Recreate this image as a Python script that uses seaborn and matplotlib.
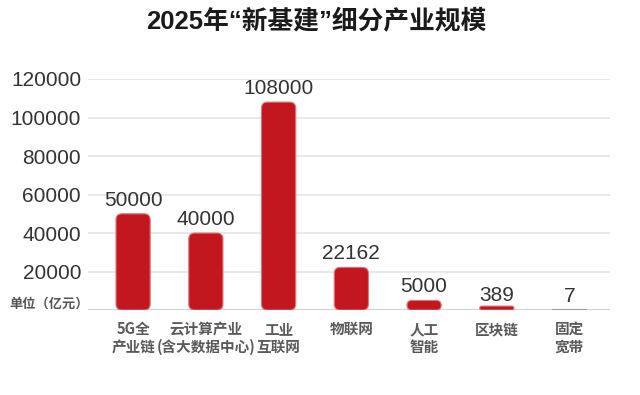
import matplotlib
matplotlib.use("Agg")
import matplotlib.pyplot as plt
from matplotlib.patches import FancyBboxPatch
import seaborn as sns
import pandas as pd

title = "2025年“新基建”细分产业规模"
categories = ["5G全\n产业链", "云计算产业\n(含大数据中心)", "工业\n互联网", "物联网",
              "人工\n智能", "区块链", "固定\n宽带"]
values = [50000, 40000, 108000, 22162, 5000, 389, 7]
value_labels = ["50000", "40000", "108000", "22162", "5000", "389", "7"]
yticks = [20000, 40000, 60000, 80000, 100000, 120000]
unit_label = "单位（亿元）"

sns.set_theme(style="white")
plt.rcParams["font.family"] = ["Liberation Sans", "Noto Sans CJK SC", "DejaVu Sans"]

df = pd.DataFrame({"cat": categories, "val": values})

fig = plt.figure(figsize=(6.4, 3.95), dpi=100)
ax = fig.add_axes([0.1375, 0.215, 0.815, 0.585])

bar_color = "#C2171F"
sns.barplot(data=df, x="cat", y="val", color=bar_color, width=0.47, ax=ax,
            saturation=1, errorbar=None)

ax.set_ylim(0, 120000)
ax.set_xlim(-0.62, 6.55)
ax.set_yticks(yticks)
ax.set_yticklabels([str(t) for t in yticks], fontsize=15, color="#333333")
ax.tick_params(axis="y", length=0, pad=5)
ax.tick_params(axis="x", length=0, pad=8)
ax.set_xticks(range(len(categories)))
ax.set_xticklabels(categories, fontsize=10.5, color="#5a5a5a", linespacing=1.15,
                   fontweight="bold", family=["Noto Sans CJK SC", "DejaVu Sans"])
ax.set_xlabel("")
ax.set_ylabel("")
for s in ax.spines.values():
    s.set_visible(False)
ax.grid(axis="y", color="#E4E4E4", linewidth=1.2)
ax.set_axisbelow(True)
ax.axhline(0, color="#D2D2D2", linewidth=1.5, zorder=1)

# rounded bars
fig.canvas.draw()
x0, y0 = ax.transData.transform((0, 0))
x1, y1 = ax.transData.transform((1, 1))
px_per_x = x1 - x0
px_per_y = y1 - y0
aspect = px_per_x / px_per_y  # y units per x unit in pixel terms
r_px = 6
bars = list(ax.patches)
for p in bars:
    x, y = p.get_x(), p.get_y()
    w, h = p.get_width(), p.get_height()
    h_px = h * px_per_y
    if h_px < 0.5:
        p.set_facecolor("#9a9a9a")
        p.set_edgecolor("#9a9a9a")
        p.set_linewidth(1.5)
        p.set_zorder(3)
        continue
    h_draw = max(h, 4 / px_per_y)
    r = min(r_px, h_draw * px_per_y / 2) / px_per_x
    p.set_visible(False)
    fb = FancyBboxPatch((x, y), w, h_draw,
                        boxstyle=f"round,pad=0,rounding_size={r}",
                        mutation_aspect=aspect, facecolor=bar_color,
                        edgecolor="#E47478", linewidth=0.8, zorder=3)
    ax.add_patch(fb)

for i, (v, lab) in enumerate(zip(values, value_labels)):
    ax.annotate(lab, (i, v), xytext=(0, 3), textcoords="offset points",
                ha="center", va="bottom", fontsize=15, color="#333333")

fig.text(0.494, 0.944, title, ha="center", va="center", fontsize=18.5,
         fontweight="bold", color="#1a1a1a",
         family=["Liberation Sans", "Noto Sans CJK SC"])
fig.text(0.015, 0.23, unit_label, ha="left", va="center", fontsize=9.5,
         fontweight="bold", color="#555555",
         family=["Noto Sans CJK SC", "DejaVu Sans"])

fig.savefig("out.png", dpi=100, facecolor="white")
